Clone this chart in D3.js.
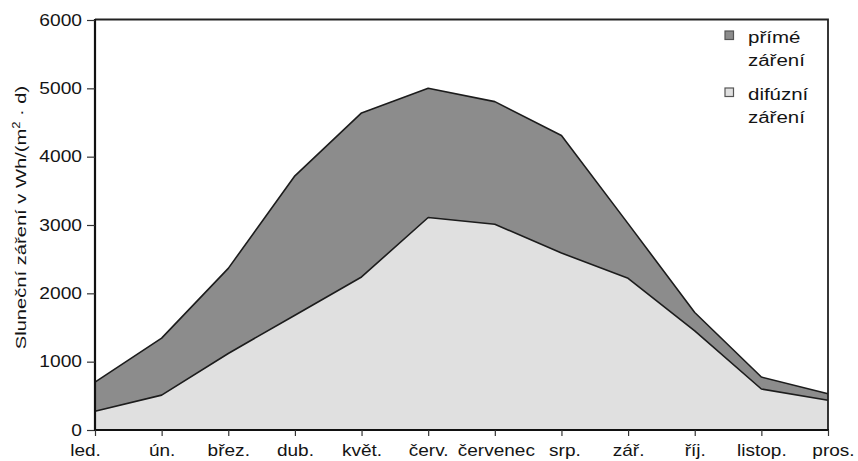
<!DOCTYPE html>
<html>
<head>
<meta charset="utf-8">
<script src="https://cdn.jsdelivr.net/npm/d3@7"></script>
<style>
  html, body { margin: 0; padding: 0; background: #fff; }
  svg { display: block; font-family: "Liberation Sans", Arial, sans-serif; }
</style>
</head>
<body>
<svg id="chart" width="858" height="461"></svg>
<script>
// ---- data ----
const months = ["led.", "ún.", "břez.", "dub.", "květ.", "červ.", "červenec", "srp.", "zář.", "říj.", "listop.", "pros."];
const totalRadiation = [700, 1345, 2365, 3720, 4640, 5000, 4805, 4310, 3020, 1720, 775, 530];   // přímé + difúzní (top edge)
const diffuseRadiation = [275, 510, 1120, 1680, 2240, 3110, 3010, 2590, 2220, 1450, 600, 435];
const yTicks = [0, 1000, 2000, 3000, 4000, 5000, 6000];
const legendItems = [
  { lines: ["přímé", "záření"], key: "direct" },
  { lines: ["difúzní", "záření"], key: "diffuse" }
];

// ---- layout ----
const svg = d3.select("#chart");
const mLeft = 95, mRight = 828, mTop = 20, mBottom = 430;
const colors = { direct: "#8c8c8c", diffuse: "#e0e0e0", line: "#1c1c1c", text: "#141414" };

const x = d3.scalePoint().domain(months).range([mLeft, mRight]);
const y = d3.scaleLinear().domain([0, 6000]).range([mBottom, mTop]);

// areas
const area = d3.area().x((d, i) => x(months[i])).y0(y(0)).y1(d => y(d));
const line = d3.line().x((d, i) => x(months[i])).y(d => y(d));

svg.append("path").datum(totalRadiation).attr("d", area).attr("fill", colors.direct);
svg.append("path").datum(diffuseRadiation).attr("d", area).attr("fill", colors.diffuse);
svg.append("path").datum(totalRadiation).attr("d", line).attr("fill", "none")
  .attr("stroke", colors.line).attr("stroke-width", 1.6).attr("stroke-linejoin", "round");
svg.append("path").datum(diffuseRadiation).attr("d", line).attr("fill", "none")
  .attr("stroke", colors.line).attr("stroke-width", 1.6).attr("stroke-linejoin", "round");

// frame (top and right)
svg.append("path")
  .attr("d", `M${mLeft},${mTop - 0.5} H${mRight} V${mBottom}`)
  .attr("fill", "none").attr("stroke", "#222").attr("stroke-width", 1.8);

// y axis
const yAxis = svg.append("g").attr("transform", `translate(${mLeft},0)`)
  .call(d3.axisLeft(y).tickValues(yTicks).tickSize(8).tickPadding(5).tickFormat(d3.format("d")));
yAxis.select(".domain").attr("stroke", "#111").attr("stroke-width", 2.2).attr("d", `M0,${mBottom}V${mTop - 1}`);
yAxis.selectAll(".tick line").attr("stroke", "#333").attr("stroke-width", 1.2);
const ys = 1.2;
yAxis.selectAll(".tick text")
  .attr("fill", colors.text).style("font-size", "16px")
  .attr("x", -13 / ys).attr("transform", `scale(${ys},1)`);

// x axis
const xAxis = svg.append("g").attr("transform", `translate(0,${mBottom})`)
  .call(d3.axisBottom(x).tickSize(6).tickPadding(8));
xAxis.select(".domain").attr("stroke", "#111").attr("stroke-width", 2.2).attr("d", `M${mLeft - 1},0H${mRight + 1}`);
xAxis.selectAll(".tick line").attr("stroke", "#333").attr("stroke-width", 1.2);
const xs = 1.12;
const edgeShift = { "led.": -10, "pros.": 5, "červenec": 1, "srp.": 3 };
xAxis.selectAll(".tick text")
  .attr("fill", colors.text).style("font-size", "17px")
  .attr("x", d => (edgeShift[d] || 0) / xs)
  .attr("transform", `scale(${xs},1)`);

// y axis title
const yt = svg.append("text")
  .attr("transform", `translate(26,${(85 + 350) / 2}) rotate(-90) scale(1.3,1)`)
  .attr("text-anchor", "middle").attr("fill", colors.text).style("font-size", "15.5px");
yt.append("tspan").text("Sluneční záření v Wh/(m");
yt.append("tspan").text("2").attr("dy", -6).style("font-size", "10px");
yt.append("tspan").text(" · d)").attr("dy", 6);

// legend
const legend = svg.append("g");
legendItems.forEach((item, i) => {
  const gy = 31 + i * 57;
  legend.append("rect").attr("x", 725).attr("y", gy).attr("width", 8.5).attr("height", 8.5)
    .attr("fill", colors[item.key]).attr("stroke", "#555").attr("stroke-width", 1.2);
  item.lines.forEach((t, j) => {
    legend.append("text")
      .attr("transform", `translate(748,${gy + 12 + j * 23}) scale(1.28,1)`)
      .attr("fill", colors.text).style("font-size", "16px").text(t);
  });
});
</script>
</body>
</html>
